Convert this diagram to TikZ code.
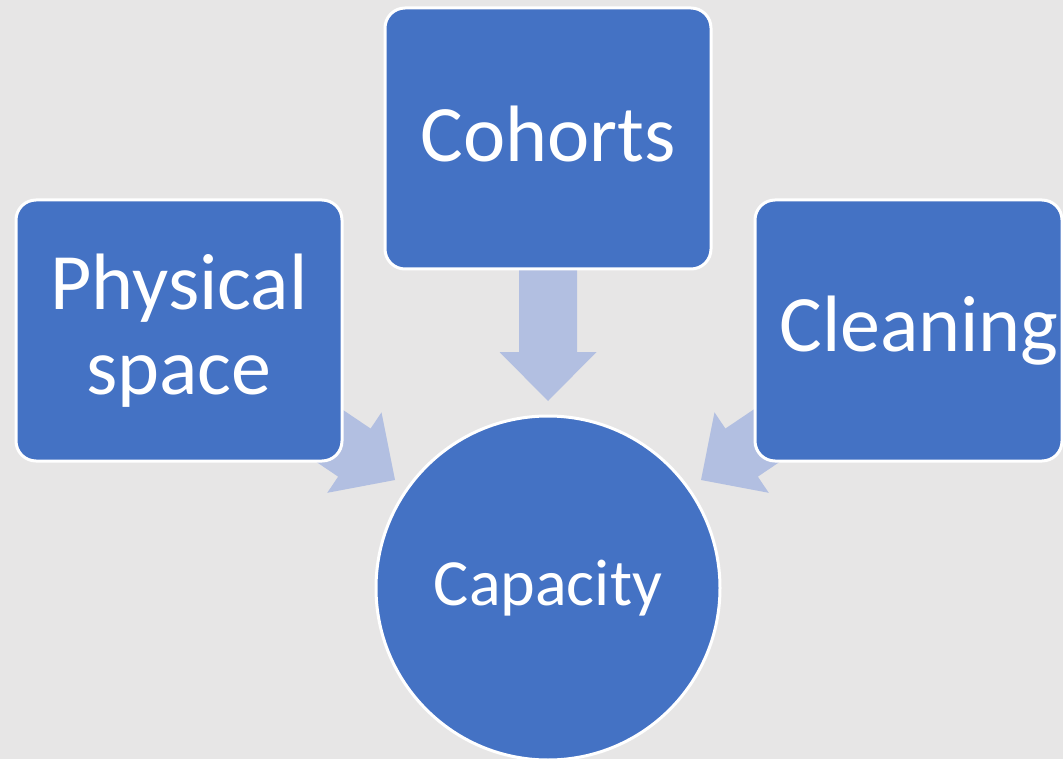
\documentclass[tikz,border=0pt]{standalone}
\usepackage{fontspec}
\setmainfont{Carlito}
\definecolor{bgc}{RGB}{231,230,230}
\definecolor{boxblue}{RGB}{68,114,196}
\definecolor{arrowc}{RGB}{178,191,225}
\tikzset{
  x=1pt, y=1pt,
  boxnode/.style={rectangle, rounded corners=20pt, fill=boxblue, draw=white, line width=3pt,
    minimum width=326pt, minimum height=261pt, text=white, align=center, inner sep=0pt,
    font=\fontsize{80}{85}\selectfont},
  circnode/.style={circle, fill=boxblue, draw=white, line width=3pt, minimum size=344pt,
    text=white, inner sep=0pt, font=\fontsize{66}{70}\selectfont},
  blockarrow/.pic={\fill[arrowc] (0,0) -- (-49,48.5) -- (-49,29) -- (-#1,29) -- (-#1,-29) -- (-49,-29) -- (-49,-48.5) -- cycle;}
}
\begin{document}
\begin{tikzpicture}
\fill[bgc] (0,0) rectangle (1063,-759);
\useasboundingbox (0,0) rectangle (1063,-759);
% block arrows (behind the shapes)
\coordinate (tipL) at (395,-480);
\coordinate (tipT) at (548,-401);
\coordinate (tipR) at (701,-480);
\pic[rotate=-34] at (tipL) {blockarrow=150};
\pic[rotate=-90] at (tipT) {blockarrow=140};
\pic[rotate=214] at (tipR) {blockarrow=150};
% shapes
\node[boxnode] (phys) at (179,-330.5) {Physical\\space};
\node[boxnode] (coh) at (548,-138.5) {};
\node[text=white, inner sep=0pt, font=\fontsize{80}{85}\selectfont] (cohtext) at (548,-134) {Cohorts};
\node[boxnode, minimum width=307pt] (clean) at (908.5,-330.5) {};
\node[text=white, inner sep=0pt, font=\fontsize{80}{85}\selectfont] (cleantext) at (919,-330.5) {Cleaning};
\node[circnode] (cap) at (548,-588) {Capacity};
\end{tikzpicture}
\end{document}
